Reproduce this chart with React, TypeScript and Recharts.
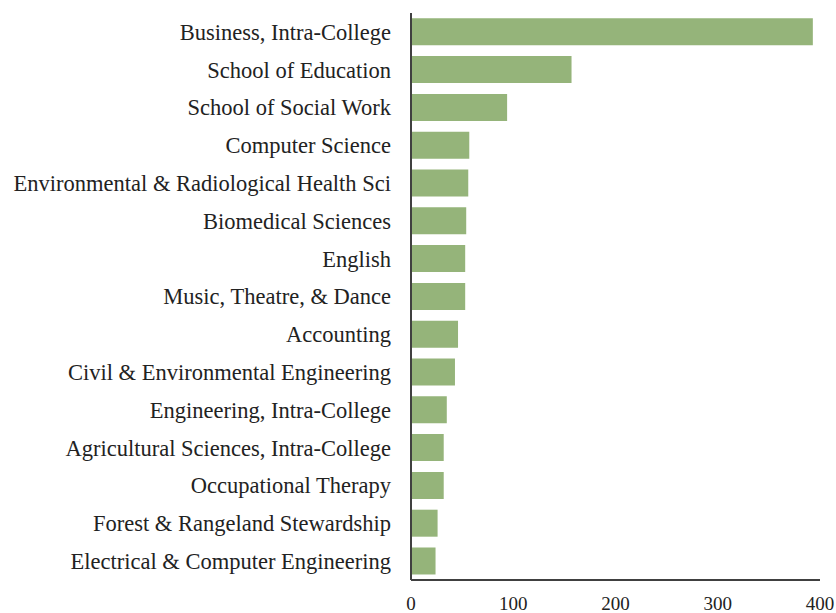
import React from 'react';
import { BarChart, Bar, XAxis, YAxis } from 'recharts';

const departments = [
  'Business, Intra-College',
  'School of Education',
  'School of Social Work',
  'Computer Science',
  'Environmental & Radiological Health Sci',
  'Biomedical Sciences',
  'English',
  'Music, Theatre, & Dance',
  'Accounting',
  'Civil & Environmental Engineering',
  'Engineering, Intra-College',
  'Agricultural Sciences, Intra-College',
  'Occupational Therapy',
  'Forest & Rangeland Stewardship',
  'Electrical & Computer Engineering',
];

const counts = [393, 157, 94, 57, 56, 54, 53, 53, 46, 43, 35, 32, 32, 26, 24];

const xTicks = [0, 100, 200, 300, 400];

const data = departments.map((name, i) => ({ name, value: counts[i] }));

const fontFamily = '"Liberation Serif", "DejaVu Serif", serif';

const App = () => {
  return (
    <div style={{ position: 'absolute', left: 0, top: 0, background: '#fff' }}>
      <BarChart
        width={836}
        height={613}
        data={data}
        layout="vertical"
        margin={{ top: 13, right: 16, left: 0, bottom: 0 }}
        barCategoryGap="14%"
      >
        <XAxis
          type="number"
          domain={[0, 400]}
          ticks={xTicks}
          height={33}
          tickLine={false}
          tickSize={0}
          tickMargin={17}
          axisLine={{ stroke: '#404040', strokeWidth: 2 }}
          tick={{ fill: '#222', fontSize: 19, fontFamily }}
          interval={0}
        />
        <YAxis
          type="category"
          dataKey="name"
          width={411}
          tickLine={false}
          tickSize={0}
          tickMargin={20}
          axisLine={{ stroke: '#404040', strokeWidth: 2 }}
          tick={{ fill: '#222', fontSize: 22.5, fontFamily }}
          interval={0}
        />
        <Bar dataKey="value" fill="#95B47A" isAnimationActive={false} />
      </BarChart>
    </div>
  );
};

export default App;
